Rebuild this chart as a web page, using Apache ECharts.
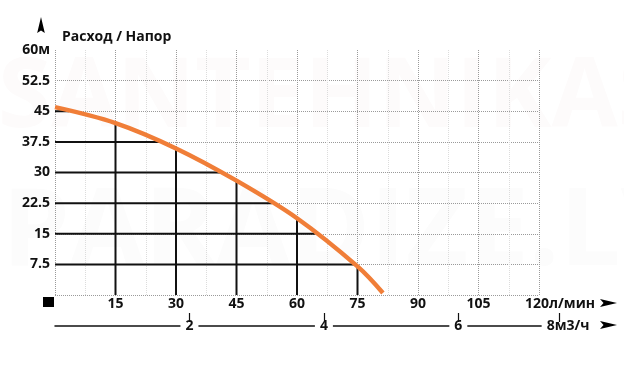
<!DOCTYPE html>
<html>
<head>
<meta charset="utf-8">
<script src="https://cdn.jsdelivr.net/npm/echarts@6/dist/echarts.min.js"></script>
<style>html,body{margin:0;padding:0;background:#fff;}#c{width:624px;height:368px;}</style>
</head>
<body>
<div id="c"></div>
<script>
// ---- data ----
const titleText = 'Расход / Напор';
const flowUnit = 'л/мин';
const headUnit = 'м';
// pump curve: flow (l/min) -> head (m)
const curveFlow = [0, 15, 30, 45, 60, 75, 81.3];
const curveHead = [46, 42.1, 35.9, 28.0, 18.8, 7.0, 0.5];
// horizontal guide levels (m) and where they meet the curve (l/min)
const levelHead = [45, 37.5, 30, 22.5, 15, 7.5];
const levelFlow = [3.5, 26.2, 41, 53.8, 64.5, 74.5];
// vertical guides at these flows (index into curve arrays)
const guideIdx = [1, 2, 3, 4, 5];
// second scale: m3/h labels and their place along the l/min scale
const m3hLabels = ['2', '4', '6', '8м3/ч'];
const m3hTickAt = [33.33, 66.67, 100, 125];
const m3hLabelAt = [33.33, 66.67, 100, 127.2];

const BLACK = '#111';
const ORANGE = '#f07e38';
const FONT = 'Open Sans';

const chart = echarts.init(document.getElementById('c'), null, {renderer: 'canvas'});

const series = [];
levelHead.forEach((h, i) => {
  series.push({type: 'line', xAxisIndex: 0, yAxisIndex: 0, silent: true, symbol: 'none', z: 2,
    lineStyle: {color: BLACK, width: 2}, data: [[0, h], [levelFlow[i], h]]});
});
guideIdx.forEach(k => {
  series.push({type: 'line', xAxisIndex: 0, yAxisIndex: 0, silent: true, symbol: 'none', z: 2,
    lineStyle: {color: BLACK, width: 2}, data: [[curveFlow[k], 0], [curveFlow[k], curveHead[k]]]});
});
series.push({type: 'line', xAxisIndex: 0, yAxisIndex: 0, silent: true, symbol: 'none', z: 5,
  smooth: 0.35, lineStyle: {color: ORANGE, width: 4.5},
  data: curveFlow.map((f, i) => [f, curveHead[i]])});

function nearestIdx(arr, v) {
  let b = 0; for (let i = 1; i < arr.length; i++) if (Math.abs(arr[i] - v) < Math.abs(arr[b] - v)) b = i; return b;
}

const option = {
  animation: false,
  backgroundColor: '#fff',
  textStyle: {fontFamily: FONT},
  title: {text: titleText, left: 57, top: 25,
    textStyle: {fontFamily: FONT, fontWeight: 'bold', fontSize: 14, color: BLACK}},
  grid: [
    {left: 55, right: 85, top: 50, bottom: 73},
    {left: 55, right: 44.67, top: 50, bottom: 73}
  ],
  xAxis: [
    {type: 'value', gridIndex: 0, min: 0, max: 120, interval: 15,
      axisLine: {show: false}, axisTick: {show: false},
      minorTick: {show: false, splitNumber: 2},
      minorSplitLine: {show: true, lineStyle: {color: '#dcdcdc', type: 'dotted', width: 1}},
      splitLine: {show: true, lineStyle: {color: '#9a9a9a', type: 'dotted', width: 1}},
      axisLabel: {show: true, margin: 2, showMinLabel: false, color: BLACK,
        fontFamily: FONT, fontWeight: 'bold', fontSize: 14,
        formatter: v => v === 120 ? '{u|' + v + flowUnit + '}' : String(v),
        rich: {u: {padding: [0, 0, 0, 42], fontFamily: FONT, fontWeight: 'bold', fontSize: 14, color: BLACK}}}
    },
    {type: 'value', gridIndex: 1, min: 0, max: 130, position: 'bottom', offset: 31,
      splitLine: {show: false},
      axisLine: {show: true, onZero: false, lineStyle: {color: BLACK, width: 1.5}},
      axisTick: {show: true, inside: true, length: 13, customValues: m3hTickAt,
        lineStyle: {color: BLACK, width: 1.2}},
      axisLabel: {show: true, customValues: m3hLabelAt, margin: 0, verticalAlign: 'middle',
        backgroundColor: '#fff', padding: [0, 5, 0, 5], lineHeight: 8, color: BLACK,
        fontFamily: FONT, fontWeight: 'bold', fontSize: 14,
        formatter: v => m3hLabels[nearestIdx(m3hLabelAt, v)]}
    }
  ],
  yAxis: [
    {type: 'value', gridIndex: 0, min: 0, max: 60, interval: 7.5,
      axisLine: {show: false}, axisTick: {show: false},
      splitLine: {show: true, showMaxLine: false, lineStyle: {color: '#9a9a9a', type: 'dotted', width: 1}},
      axisLabel: {margin: 5, color: BLACK, fontFamily: FONT, fontWeight: 'bold', fontSize: 14,
        formatter: v => v === 0 ? '' : (v === 60 ? v + headUnit : String(v))}
    },
    {type: 'value', gridIndex: 1, min: 0, max: 60, show: false}
  ],
  graphic: [
    {type: 'text', left: -2, top: 52, z: -10, silent: true,
      style: {text: 'SANTEHNIKAS', fill: '#fdfbfb', fontFamily: FONT, fontWeight: 'bold', fontSize: 96}},
    {type: 'text', left: 2, top: 180, z: -10, silent: true,
      style: {text: 'PARADIZE.LV', fill: '#fcfcfc', fontFamily: FONT, fontWeight: 'bold', fontSize: 108}},
    {type: 'rect', shape: {x: 43, y: 297, width: 11, height: 10}, style: {fill: '#000'}},
    {type: 'polygon', shape: {points: [[41, 17], [44.8, 33], [41, 30.5], [37.2, 33]]}, style: {fill: '#000'}},
    {type: 'polygon', shape: {points: [[617, 303], [600, 299], [603.5, 303], [600, 307]]}, style: {fill: '#000'}},
    {type: 'polygon', shape: {points: [[617, 325], [600, 321], [603.5, 325], [600, 329]]}, style: {fill: '#000'}}
  ],
  series: series
};
chart.setOption(option);
</script>
</body>
</html>
